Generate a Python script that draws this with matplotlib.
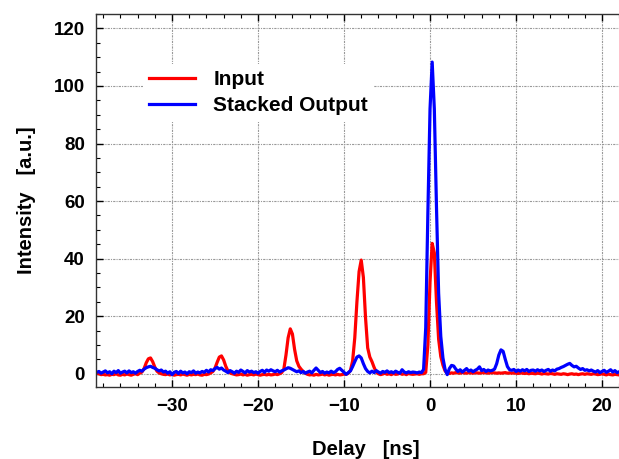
import numpy as np
import matplotlib
matplotlib.use("Agg")
import matplotlib.pyplot as plt
from matplotlib.ticker import MultipleLocator

# Delay axis sampled every 0.25 ns from -38.75 to 22.0 ns
delay_start = -38.75
delay_step = 0.25

# Input (red) intensity, 4 samples per ns
input_intensity = [
    0.2, 0.0, -0.3, -0.2,      # -> -38
    -0.4, -0.3, -0.5, -0.2,    # -> -37
    -0.3, 0.0, -0.4, -0.5,     # -> -36
    -0.2, -0.4, -0.1, -0.3,    # -> -35
    -0.5, -0.2, 0.0, -0.3,     # -> -34
    0.2, 0.6, 1.8, 3.8,        # -> -33
    5.2, 5.5, 4.2, 2.3,        # -> -32
    0.9, 0.3, 0.0, -0.2,       # -> -31
    -0.3, -0.1, -0.4, -0.2,    # -> -30
    -0.5, -0.3, -0.2, -0.4,    # -> -29
    -0.1, -0.3, -0.5, -0.2,    # -> -28
    -0.4, -0.2, -0.3, -0.1,    # -> -27
    -0.4, -0.5, -0.2, -0.3,    # -> -26
    -0.1, 0.3, 0.8, 2.0,       # -> -25
    4.0, 5.8, 6.2, 4.8,        # -> -24
    2.6, 1.0, 0.3, 0.0,        # -> -23
    -0.2, -0.4, -0.3, -0.1,    # -> -22
    -0.4, -0.2, -0.5, -0.3,    # -> -21
    -0.2, -0.4, -0.1, -0.3,    # -> -20
    -0.5, -0.3, -0.2, -0.4,    # -> -19
    -0.2, -0.4, -0.3, -0.1,    # -> -18
    -0.3, 0.0, 0.4, 1.6,       # -> -17
    6.5, 12.5, 15.6, 13.8,     # -> -16
    8.5, 4.5, 2.6, 1.6,        # -> -15
    0.8, 0.2, -0.2, -0.4,      # -> -14
    -0.3, -0.5, -0.2, -0.4,    # -> -13
    -0.3, -0.1, -0.4, -0.2,    # -> -12
    -0.5, -0.3, -0.2, -0.4,    # -> -11
    -0.2, -0.4, -0.3, -0.1,    # -> -10
    -0.2, 0.2, 1.2, 4.5,       # -> -9
    12.5, 25.0, 35.5, 39.5,    # -> -8
    33.5, 19.5, 9.0, 5.8,      # -> -7
    4.2, 2.2, 0.6, 0.0,        # -> -6
    -0.3, -0.1, 0.2, -0.2,     # -> -5
    0.0, -0.3, 0.1, -0.2,      # -> -4
    -0.1, 0.2, -0.2, 0.0,      # -> -3
    -0.3, 0.1, -0.1, -0.2,     # -> -2
    -0.1, 0.0, -0.2, 0.0,      # -> -1
    0.0, 0.5, 10.0, 32.0,      # -> 0
    45.3, 42.0, 25.0, 12.0,    # -> 1
    6.0, 3.0, 1.0, 0.2,        # -> 2
    0.1, 0.3, 0.2, 0.4,        # -> 3
    0.3, 0.2, 0.4, 0.3,        # -> 4
    0.2, 0.4, 0.3, 0.2,        # -> 5
    0.4, 0.3, 0.2, 0.4,        # -> 6
    0.3, 0.4, 0.2, 0.3,        # -> 7
    0.4, 0.3, 0.2, 0.3,        # -> 8
    0.2, 0.3, 0.4, 0.2,        # -> 9
    0.3, 0.2, 0.3, 0.2,        # -> 10
    0.1, 0.3, 0.2, 0.1,        # -> 11
    0.2, 0.0, 0.2, 0.1,        # -> 12
    0.0, 0.2, 0.1, -0.1,       # -> 13
    0.1, 0.0, -0.1, 0.1,       # -> 14
    0.0, -0.2, 0.0, -0.1,      # -> 15
    -0.2, 0.0, -0.1, -0.3,     # -> 16
    -0.1, 0.0, -0.2, -0.1,     # -> 17
    -0.3, -0.1, 0.0, -0.2,     # -> 18
    0.0, -0.1, -0.2, 0.0,      # -> 19
    -0.1, -0.3, -0.2, 0.0,     # -> 20
    -0.2, -0.4, -0.1, -0.3,    # -> 21
    -0.4, -0.2, -0.3, -0.4,    # -> 22
]

# Stacked output (blue) intensity, 4 samples per ns
output_intensity = [
    0.5, 0.8, 0.2, 0.6,        # -> -38
    1.0, 0.3, 0.7, 0.0,        # -> -37
    0.9, 0.4, 1.1, 0.2,        # -> -36
    0.6, 0.9, 0.3, 1.0,        # -> -35
    0.4, 0.7, 0.2, 0.8,        # -> -34
    1.2, 0.9, 1.6, 2.1,        # -> -33
    2.4, 2.6, 2.2, 1.9,        # -> -32
    1.4, 1.0, 1.3, 0.6,        # -> -31
    0.9, 0.2, 0.7, -0.3,       # -> -30
    0.5, 0.8, 0.1, 0.9,        # -> -29
    0.3, 0.6, 0.0, 0.7,        # -> -28
    0.4, 1.0, 0.2, 0.6,        # -> -27
    0.3, 0.8, 0.5, 1.2,        # -> -26
    0.6, 1.4, 1.1, 1.8,        # -> -25
    2.2, 1.6, 2.0, 1.3,        # -> -24
    0.9, 0.4, 1.1, 0.7,        # -> -23
    0.2, 0.9, 0.5, 1.3,        # -> -22
    0.8, 0.3, 1.1, 0.6,        # -> -21
    0.9, 0.4, 0.7, 0.2,        # -> -20
    0.8, 1.2, 0.5, 1.3,        # -> -19
    0.9, 1.4, 1.0, 0.7,        # -> -18
    1.2, 0.6, 1.0, 1.3,        # -> -17
    1.7, 2.1, 1.9, 1.5,        # -> -16
    1.1, 0.7, 1.0, 0.4,        # -> -15
    0.8, 0.2, 0.6, 0.9,        # -> -14
    0.3, 1.2, 2.0, 1.2,        # -> -13
    0.4, 0.8, 0.2, 0.6,        # -> -12
    0.3, 0.9, 0.4, 0.7,        # -> -11
    1.5, 1.9, 1.2, 0.5,        # -> -10
    -0.2, 0.4, 1.0, 2.5,       # -> -9
    4.2, 5.8, 6.2, 5.5,        # -> -8
    3.5, 1.8, 0.8, 0.3,        # -> -7
    0.9, 0.4, 1.1, 0.6,        # -> -6
    0.2, 0.8, 0.5, 1.0,        # -> -5
    0.4, 0.7, 0.3, 0.9,        # -> -4
    0.5, 0.2, 1.4, 0.6,        # -> -3
    0.3, 0.7, 0.4, 0.6,        # -> -2
    0.5, 0.3, 0.6, 0.4,        # -> -1
    1.5, 16.0, 56.0, 92.0,     # -> 0
    108.3, 92.0, 58.0, 28.0,   # -> 1
    13.0, 5.5, 1.5, -0.3,      # -> 2
    1.8, 2.9, 2.7, 1.6,        # -> 3
    0.8, 1.4, 0.6, 1.2,        # -> 4
    1.8, 0.9, 1.3, 0.7,        # -> 5
    1.2, 1.6, 2.4, 1.1,        # -> 6
    1.5, 0.8, 1.3, 1.0,        # -> 7
    1.2, 1.6, 3.5, 6.5,        # -> 8
    8.3, 7.8, 5.0, 2.5,        # -> 9
    1.4, 1.2, 1.5, 0.8,        # -> 10
    1.3, 0.9, 1.4, 1.0,        # -> 11
    1.5, 0.8, 1.2, 1.3,        # -> 12
    0.9, 1.4, 1.0, 1.3,        # -> 13
    0.8, 1.2, 1.5, 0.9,        # -> 14
    1.3, 1.0, 1.6, 1.8,        # -> 15
    2.2, 2.5, 2.9, 3.3,        # -> 16
    3.6, 2.9, 2.4, 2.6,        # -> 17
    2.0, 1.5, 1.8, 1.2,        # -> 18
    1.4, 1.0, 1.3, 0.9,        # -> 19
    0.6, 1.1, 0.4, 0.8,        # -> 20
    1.2, 0.5, 0.9, 1.4,        # -> 21
    0.6, 1.1, 0.4, 0.7,        # -> 22
]

x_ticks = [-30, -20, -10, 0, 10, 20]
y_ticks = [0, 20, 40, 60, 80, 100, 120]
series_labels = ["Input", "Stacked Output"]

delay = delay_start + delay_step * np.arange(len(input_intensity))

plt.rcParams['font.family'] = ['Liberation Sans', 'DejaVu Sans']
plt.rcParams['font.weight'] = 'bold'

fig = plt.figure(figsize=(6.19, 4.59), dpi=100)
ax = fig.add_axes([96 / 619, 1 - 387 / 459, 540 / 619, 373 / 459])

ax.plot(delay, input_intensity, color='#ff0000', lw=2.3, label=series_labels[0])
ax.plot(delay, output_intensity, color='#0000ff', lw=2.3, label=series_labels[1])

ax.set_xlim(-38.84, 23.95)
ax.set_ylim(-4.6, 125)
ax.set_xticks(x_ticks)
ax.set_yticks(y_ticks)
ax.xaxis.set_minor_locator(MultipleLocator(2))
ax.yaxis.set_minor_locator(MultipleLocator(5))
ax.tick_params(which='both', direction='in', top=True, right=True, labelsize=13.5, pad=8)
ax.tick_params(which='major', length=5, width=1)
ax.tick_params(which='minor', length=3, width=0.8)
for lab in ax.get_xticklabels() + ax.get_yticklabels():
    lab.set_fontweight('bold')

ax.grid(True, which='major', color='#999999', linestyle=(0, (2, 1, 1, 1)), lw=0.8)
for sp in ax.spines.values():
    sp.set_linewidth(1.0)
    sp.set_color('#333333')

ax.set_xlabel("Delay   [ns]", fontsize=14.5, fontweight='bold', labelpad=18)
ax.set_ylabel("Intensity   [a.u.]", fontsize=14.5, fontweight='bold', labelpad=13)

leg = ax.legend(loc='upper left', bbox_to_anchor=(0.067, 0.894), frameon=True,
                fontsize=15, handlelength=2.2, handletextpad=0.9,
                labelspacing=0.35, borderpad=0.3)
leg.get_frame().set_edgecolor('none')
leg.get_frame().set_facecolor('white')
leg.get_frame().set_alpha(1.0)
for t in leg.get_texts():
    t.set_fontweight('bold')

fig.savefig("out.png", dpi=100)
